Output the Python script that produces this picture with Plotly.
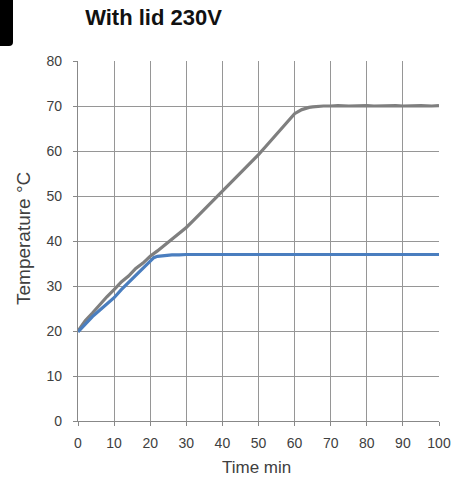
import plotly.graph_objects as go

time_gray = [0, 2, 4, 6, 8, 10, 12, 14, 16, 18, 20, 22, 24, 26, 28, 30, 32, 34, 36, 38, 40,
             42, 44, 46, 48, 50, 52, 54, 56, 58, 60, 62, 63, 64, 65, 66, 68, 70, 72, 75, 78,
             80, 82, 85, 88, 90, 92, 95, 98, 100]
temp_gray = [20.0, 22.3, 24.0, 25.9, 27.6, 29.2, 30.9, 32.2, 33.9, 35.1, 36.6, 37.8, 39.1, 40.5, 41.6, 43.0, 44.6, 46.2, 47.8, 49.5, 51.1,
             52.6, 54.4, 56.0, 57.5, 59.2, 61.0, 62.8, 64.6, 66.5, 68.3, 69.2, 69.5, 69.7, 69.8, 69.9, 70.0, 70.0, 70.1, 70.0, 70.1,
             70.1, 70.0, 70.1, 70.1, 70.0, 70.1, 70.1, 70.0, 70.1]

time_blue = [0, 2, 4, 6, 8, 10, 12, 14, 16, 18, 20, 21, 22, 23, 24, 26, 28, 30, 35, 40,
             45, 50, 55, 60, 65, 70, 75, 80, 85, 90, 95, 100]
temp_blue = [19.8, 21.6, 23.2, 24.6, 26.0, 27.4, 29.2, 30.8, 32.5, 34.1, 35.7, 36.3, 36.6, 36.7, 36.8, 36.9, 36.9, 37.0, 37.0, 37.0,
             37.1, 37.0, 37.0, 37.1, 37.0, 37.0, 37.1, 37.0, 37.0, 37.0, 37.1, 37.0]

x_ticks = [0, 10, 20, 30, 40, 50, 60, 70, 80, 90, 100]
y_ticks = [0, 10, 20, 30, 40, 50, 60, 70, 80]

FONT = "Liberation Sans, Arial, sans-serif"
TXT = "#404040"
GRID = "#969696"

fig = go.Figure()
fig.add_trace(go.Scatter(x=time_gray, y=temp_gray, mode="lines",
                         line=dict(color="#7f7f7f", width=3.2), showlegend=False))
fig.add_trace(go.Scatter(x=time_blue, y=temp_blue, mode="lines",
                         line=dict(color="#4a7ebf", width=3.2), showlegend=False))

fig.update_layout(
    width=451, height=481,
    margin=dict(l=78, r=12, t=61, b=60, autoexpand=False),
    paper_bgcolor="white", plot_bgcolor="white",
    font=dict(family=FONT, color=TXT, size=14),
    title=dict(text="<b>With lid 230V</b>", x=153.5/451, xanchor="center", xref="container",
               y=1-17/481, yanchor="middle", yref="container",
               font=dict(family=FONT, size=22, color="#111111")),
    xaxis=dict(range=[0, 100], tickvals=x_ticks, ticktext=[str(v) for v in x_ticks],
               showgrid=True, gridcolor=GRID, gridwidth=1, automargin=False,
               showline=True, linecolor="#888888", linewidth=1.3,
               ticks="outside", ticklen=4, tickcolor="#888888", ticklabelstandoff=5,
               tickfont=dict(size=14, color=TXT), zeroline=False),
    yaxis=dict(range=[0, 80], tickvals=y_ticks, ticktext=[str(v) for v in y_ticks],
               showgrid=True, gridcolor=GRID, gridwidth=1, automargin=False,
               showline=True, linecolor="#888888", linewidth=1.3,
               ticks="outside", ticklen=4, tickcolor="#888888", ticklabelstandoff=8,
               tickfont=dict(size=14, color=TXT), zeroline=False),
    annotations=[
        dict(text="Time min", xref="paper", yref="paper", x=0.495, y=0, yshift=-46.5,
             xanchor="center", yanchor="middle", showarrow=False,
             font=dict(size=17, color=TXT, family=FONT)),
        dict(text="Temperature °C", xref="paper", yref="paper", x=0, y=0.5, xshift=-55, yshift=2,
             xanchor="center", yanchor="middle", textangle=-90, showarrow=False,
             font=dict(size=19, color=TXT, family=FONT)),
    ],
    shapes=[
        dict(type="path", xref="paper", yref="paper", xsizemode="pixel", ysizemode="pixel",
             xanchor=0, yanchor=1,
             path="M -80,63 L -65,63 L -65,19 Q -65,15 -69,15 L -80,15 Z",
             fillcolor="black", line=dict(width=0), layer="above"),
    ],
)

fig.write_html(
    "out.html",
    config={"displayModeBar": False},
    post_script="document.documentElement.style.overflow='hidden';"
                "document.body.style.margin='0';document.body.style.overflow='hidden';",
)
